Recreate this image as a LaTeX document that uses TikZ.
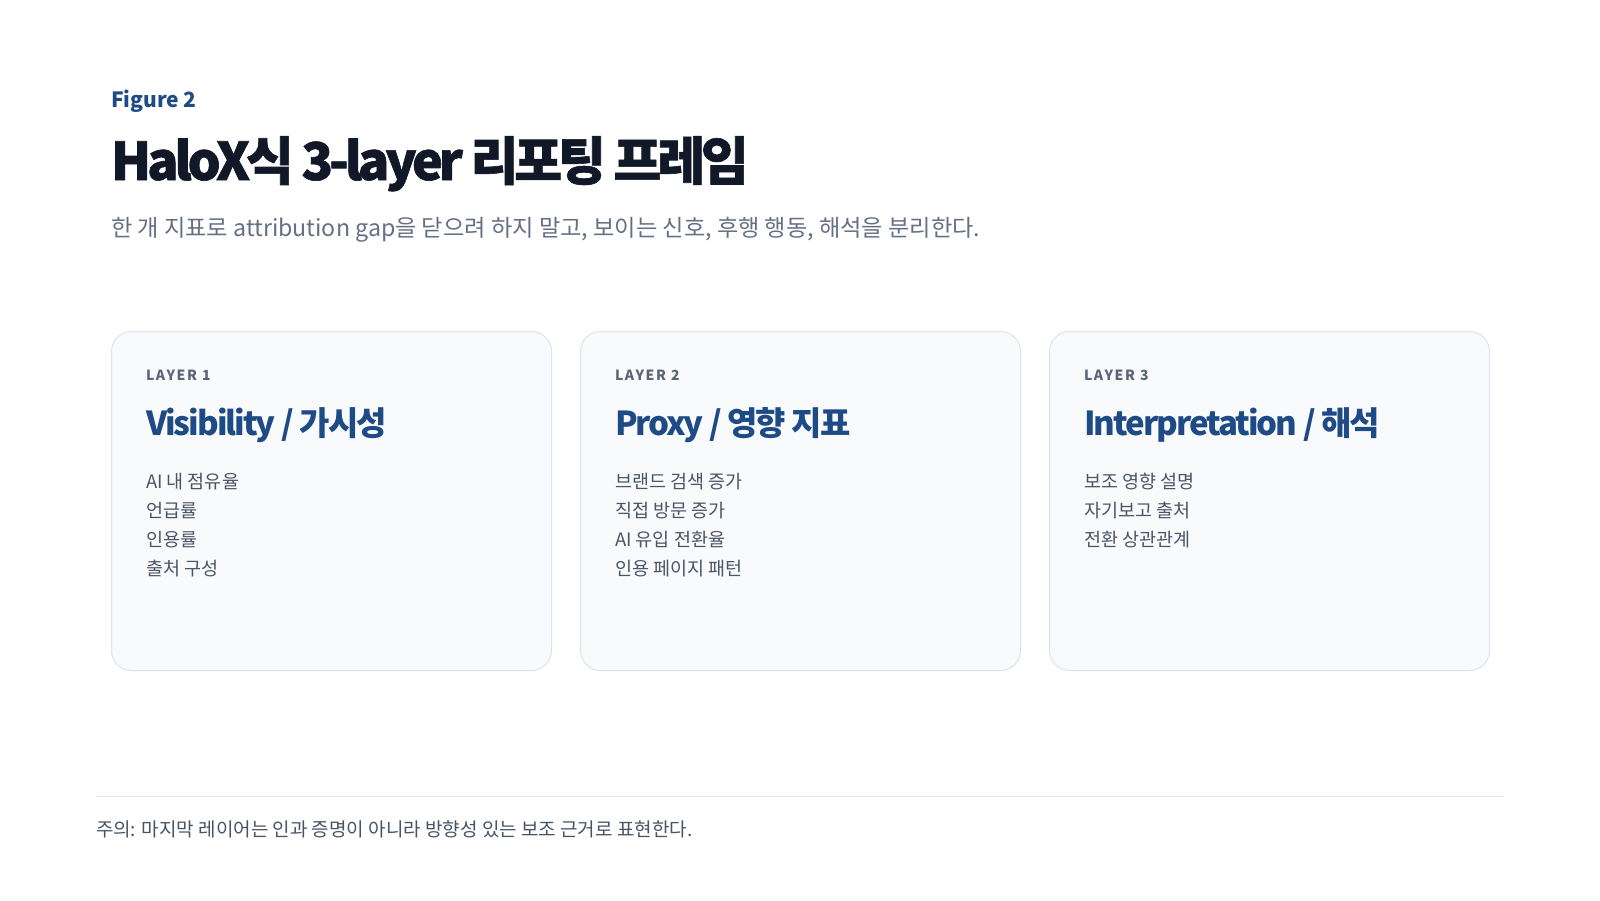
\documentclass[tikz,border=0pt]{standalone}
\usepackage{fontspec}
\setmainfont{Noto Sans CJK KR}
\newfontfamily\serrefont{Noto Sans CJK KR}[LetterSpace=-6]
\newfontfamily\grasfont{Noto Sans CJK KR}[LetterSpace=-8, BoldFeatures={FakeBold=1.2}]
\newfontfamily\largefont{Noto Sans CJK KR}[LetterSpace=12]
\definecolor{encre}{HTML}{111827}
\definecolor{bleu}{HTML}{1E4A86}
\definecolor{sousgris}{HTML}{667085}
\definecolor{etiqgris}{HTML}{5B6474}
\definecolor{itemgris}{HTML}{4B5567}
\definecolor{notegris}{HTML}{475467}
\definecolor{fondcarte}{HTML}{F8FAFC}
\definecolor{bordcarte}{HTML}{DBE4EF}
\definecolor{filet}{HTML}{E2E8F0}

\begin{document}
\begin{tikzpicture}[x=1pt, y=-1pt,
    carte/.style={draw=bordcarte, fill=fondcarte, line width=1pt,
      rounded corners=20pt, minimum width=440, minimum height=339,
      anchor=north west, inner sep=0pt},
    texte/.style={anchor=base west, inner sep=0pt, outer sep=0pt}]
    \useasboundingbox (0,0) rectangle (1600,900);
    \fill[white] (0,0) rectangle (1600,900);

    % En-tete
    \node[texte, text=bleu, font=\bfseries\fontsize{21}{25}\selectfont]
      (figure) at (111,107) {Figure 2};
    \node[texte, text=encre, font=\grasfont\bfseries\fontsize{52}{60}\selectfont]
      (titre) at (111,180) {HaloX식 3-layer 리포팅 프레임};
    \node[texte, text=sousgris, font=\fontsize{23.2}{28}\selectfont]
      (soustitre) at (111,236)
      {한 개 지표로 attribution gap을 닫으려 하지 말고, 보이는 신호, 후행 행동, 해석을 분리한다.};

    % Cartes
    \foreach \i/\x/\nom/\items in {
        1/111/{Visibility / 가시성}/{AI 내 점유율, 언급률, 인용률, 출처 구성},
        2/580/{Proxy / 영향 지표}/{브랜드 검색 증가, 직접 방문 증가, AI 유입 전환율, 인용 페이지 패턴},
        3/1049/{Interpretation / 해석}/{보조 영향 설명, 자기보고 출처, 전환 상관관계}} {
      \node[carte] (carte\i) at (\x,331) {};
      \node[texte, text=etiqgris, font=\largefont\bfseries\fontsize{14}{17}\selectfont]
        (couche\i) at ({\x+35},380) {LAYER \i};
      \node[texte, text=bleu, font=\serrefont\bfseries\fontsize{33}{40}\selectfont]
        (nom\i) at ({\x+35},435) {\nom};
      \foreach \it [count=\k] in \items {
        \node[texte, text=itemgris, font=\fontsize{18.5}{22}\selectfont]
          (item\i-\k) at ({\x+35},{488+29*(\k-1)}) {\it};
      }
    }

    % Note
    \draw[filet, line width=1pt] (96,796) -- (1504,796);
    \node[texte, text=notegris, font=\fontsize{19}{23}\selectfont]
      (note) at (96,836) {주의: 마지막 레이어는 인과 증명이 아니라 방향성 있는 보조 근거로 표현한다.};
  \end{tikzpicture}
\end{document}
